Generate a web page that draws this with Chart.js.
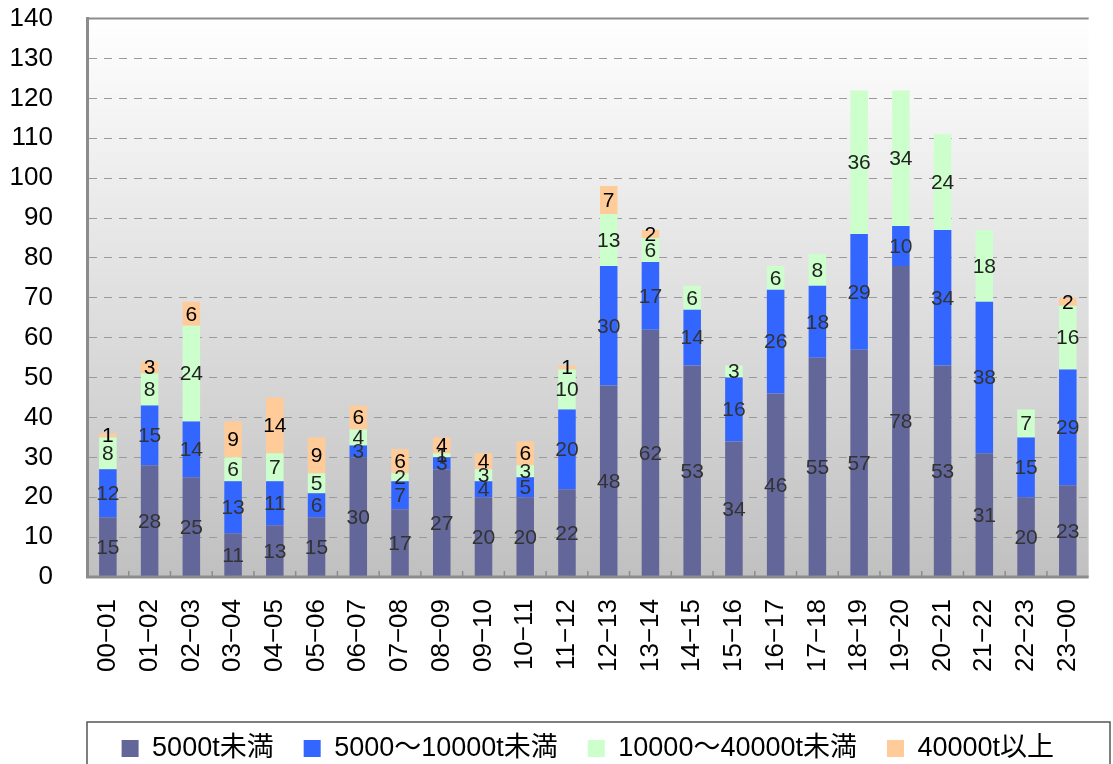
<!DOCTYPE html>
<html>
<head>
<meta charset="utf-8">
<script src="https://cdn.jsdelivr.net/npm/chart.js@4.4.1/dist/chart.umd.min.js"></script>
<style>
  html, body { margin: 0; padding: 0; background: #fff; overflow: hidden; }
  #wrap { width: 1113px; height: 772px; position: relative; }
</style>
</head>
<body>
<div id="wrap"><canvas id="chart"></canvas></div>
<script>
(function () {
  "use strict";

  const hours = [
    "00−01", "01−02", "02−03", "03−04", "04−05", "05−06", "06−07", "07−08",
    "08−09", "09−10", "10−11", "11−12", "12−13", "13−14", "14−15", "15−16",
    "16−17", "17−18", "18−19", "19−20", "20−21", "21−22", "22−23", "23−00"
  ];
  const seriesNames = ["5000t未満", "5000～10000t未満", "10000～40000t未満", "40000t以上"];
  const under5000 = [15, 28, 25, 11, 13, 15, 30, 17, 27, 20, 20, 22, 48, 62, 53, 34, 46, 55, 57, 78, 53, 31, 20, 23];
  const from5000 = [12, 15, 14, 13, 11, 6, 3, 7, 3, 4, 5, 20, 30, 17, 14, 16, 26, 18, 29, 10, 34, 38, 15, 29];
  const from10000 = [8, 8, 24, 6, 7, 5, 4, 2, 1, 3, 3, 10, 13, 6, 6, 3, 6, 8, 36, 34, 24, 18, 7, 16];
  const over40000 = [1, 3, 6, 9, 14, 9, 6, 6, 4, 4, 6, 1, 7, 2, 0, 0, 0, 0, 0, 0, 0, 0, 0, 2];
  const yTicks = [0, 10, 20, 30, 40, 50, 60, 70, 80, 90, 100, 110, 120, 130, 140];

  const colors = ["#636699", "#3366ff", "#ccffcc", "#ffcc99"];
  const labelColors = ["#333333", "#333333", "#222222", "#000000"];
  const FONT = "'Liberation Sans', Arial, 'Noto Sans CJK JP', sans-serif";

  // plot background: light gradient, plus the top frame line and inner x ticks
  const frame = {
    id: "frame",
    beforeDatasetsDraw(chart) {
      const a = chart.chartArea;
      const ctx = chart.ctx;
      const g = ctx.createLinearGradient(0, a.top, 0, a.bottom);
      g.addColorStop(0, "#ffffff");
      g.addColorStop(1, "#c0c0c0");
      ctx.save();
      ctx.globalCompositeOperation = "destination-over";
      ctx.fillStyle = g;
      ctx.fillRect(a.left, a.top, a.right - a.left, a.bottom - a.top);
      ctx.restore();
    },
    afterDatasetsDraw(chart) {
      const a = chart.chartArea;
      const ctx = chart.ctx;
      const x = chart.scales.x;
      ctx.save();
      ctx.strokeStyle = "#8c8c8c";
      ctx.lineWidth = 2;
      ctx.beginPath();
      ctx.moveTo(a.left, a.top);
      ctx.lineTo(a.right, a.top);
      ctx.stroke();
      ctx.lineWidth = 3;
      ctx.beginPath();
      ctx.moveTo(a.left - 1, a.bottom);
      ctx.lineTo(a.right, a.bottom);
      ctx.stroke();
      ctx.lineWidth = 1.5;
      for (let i = 1; i < hours.length; i++) {
        const px = (x.getPixelForValue(i - 1) + x.getPixelForValue(i)) / 2;
        ctx.beginPath();
        ctx.moveTo(px, a.bottom);
        ctx.lineTo(px, a.bottom - 6);
        ctx.stroke();
      }
      ctx.restore();
    },
    afterDraw(chart) {
      const ctx = chart.ctx;
      ctx.save();
      ctx.strokeStyle = "#555";
      ctx.lineWidth = 1.5;
      ctx.strokeRect(chart.chartArea.left, 722, chart.width - chart.chartArea.left - 3, 70);
      ctx.restore();
    }
  };

  // value labels in the middle of each segment
  const segmentLabels = {
    id: "segmentLabels",
    afterDatasetsDraw(chart) {
      const ctx = chart.ctx;
      ctx.save();
      ctx.font = "21px " + FONT;
      ctx.textAlign = "center";
      ctx.textBaseline = "middle";
      chart.data.datasets.forEach(function (ds, di) {
        const meta = chart.getDatasetMeta(di);
        meta.data.forEach(function (bar, i) {
          const v = ds.data[i];
          if (!v) return;
          const mid = (bar.y + bar.base) / 2;
          ctx.fillStyle = labelColors[di];
          ctx.fillText(String(v), bar.x, mid + 1);
        });
      });
      ctx.restore();
    }
  };

  function makeSet(idx, values) {
    return {
      label: seriesNames[idx],
      data: values,
      backgroundColor: colors[idx],
      borderWidth: 0,
      categoryPercentage: 1,
      barPercentage: 0.42
    };
  }

  new Chart(document.getElementById("chart"), {
    type: "bar",
    data: {
      labels: hours,
      datasets: [
        makeSet(0, under5000),
        makeSet(1, from5000),
        makeSet(2, from10000),
        makeSet(3, over40000)
      ]
    },
    plugins: [frame, segmentLabels],
    options: {
      responsive: true,
      maintainAspectRatio: false,
      animation: false,
      layout: { padding: 0 },
      plugins: {
        tooltip: { enabled: false },
        legend: {
          position: "bottom",
          fullSize: false,
          labels: {
            font: { size: 27, family: FONT },
            color: "#000",
            boxWidth: 17,
            boxHeight: 17,
            padding: 30
          }
        }
      },
      scales: {
        x: {
          stacked: true,
          grid: { display: false },
          border: { display: false },
          afterFit(scale) { scale.height = 128; },
          ticks: {
            color: "#000",
            font: { size: 26, family: FONT },
            minRotation: 90,
            maxRotation: 90,
            padding: 14,
            autoSkip: false
          }
        },
        y: {
          stacked: true,
          min: 0,
          max: 140,
          afterBuildTicks(scale) {
            scale.ticks = yTicks.map(function (v) { return { value: v }; });
          },
          afterFit(scale) { scale.width = 87; },
          grid: {
            color: "#9a9a9a",
            lineWidth: 1,
            drawTicks: true,
            tickLength: 31,
            tickColor: "rgba(0,0,0,0)"
          },
          border: { color: "#8c8c8c", width: 3, dash: [8, 7] },
          ticks: {
            color: "#000",
            font: { size: 26, family: FONT },
            padding: 3
          }
        }
      }
    }
  });
})();
</script>
</body>
</html>
